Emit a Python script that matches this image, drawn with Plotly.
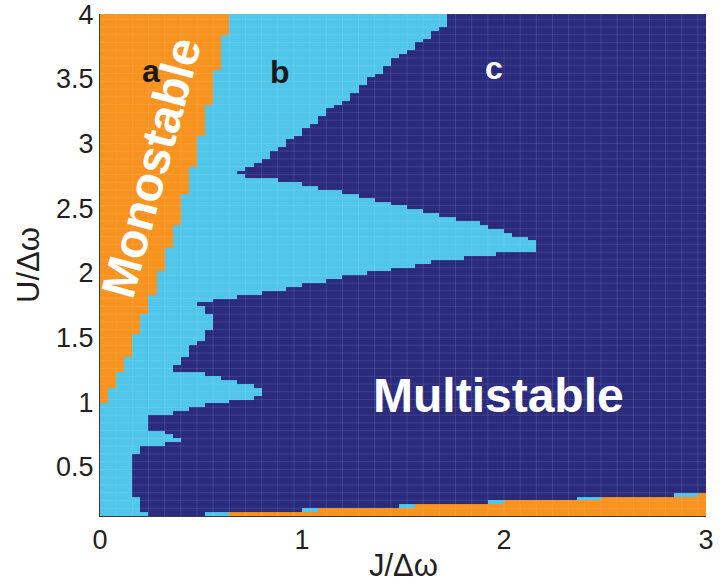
import numpy as np
import plotly.graph_objects as go

# ---------------- data ----------------
# Boundary between the light-blue region (b) and the navy multistable region (c),
# traced from the top of the chart (U = 4) down to the bottom.
edge_J = [1.74, 1.72, 1.60, 1.48, 1.36, 1.29, 1.16, 1.00, 0.84, 0.68, 0.68,
          0.80, 0.97, 1.12, 1.44, 1.68, 1.88, 2.09, 2.16, 2.16,
          2.00, 1.72, 1.56, 1.44, 1.29, 1.16, 1.04, 0.92, 0.84, 0.73, 0.64, 0.49, 0.49,
          0.53, 0.53, 0.56, 0.56, 0.525, 0.525, 0.49, 0.49, 0.445, 0.445, 0.40, 0.40, 0.36, 0.36,
          0.56, 0.68, 0.76, 0.80, 0.80,
          0.76, 0.76, 0.64, 0.64, 0.53, 0.53, 0.445, 0.445, 0.36, 0.36, 0.245,
          0.245, 0.32, 0.32, 0.36, 0.36, 0.40, 0.40, 0.32, 0.32, 0.20, 0.20,
          0.165, 0.165, 0.20, 0.20, 0.245, 0.245]
edge_U = [4.10, 3.93, 3.80, 3.67, 3.53, 3.42, 3.28, 3.09, 2.91, 2.78, 2.75,
          2.74, 2.69, 2.645, 2.54, 2.45, 2.38, 2.28, 2.25, 2.17,
          2.15, 2.10, 2.06, 2.02, 1.99, 1.95, 1.92, 1.88, 1.86, 1.83, 1.81, 1.77, 1.75,
          1.75, 1.69, 1.69, 1.56, 1.56, 1.48, 1.48, 1.43, 1.43, 1.36, 1.36, 1.30, 1.30, 1.25,
          1.20, 1.16, 1.13, 1.11, 1.055,
          1.055, 1.03, 1.03, 1.00, 1.00, 0.96, 0.96, 0.92, 0.92, 0.90, 0.90,
          0.78, 0.78, 0.76, 0.76, 0.73, 0.73, 0.70, 0.70, 0.67, 0.67, 0.59,
          0.59, 0.27, 0.27, 0.15, 0.15, 0.00]

# Monostable (orange) staircase on the left: right edge J for each U band
mono_U_low = [3.853, 3.567, 3.304, 3.073, 2.818, 2.617, 2.385, 2.176,
              1.998, 1.828, 1.666, 1.519, 1.364, 1.226, 1.117, 0.994]
mono_J = [0.64, 0.60, 0.56, 0.52, 0.48, 0.44, 0.40, 0.36,
          0.32, 0.28, 0.24, 0.20, 0.16, 0.12, 0.08, 0.04]

# Monostable strip along the bottom: per U row, where light-blue and orange start
strip_U_low = [0.12, 0.15, 0.18, 0.21, 0.24, 0.27]
strip_blue_J = [0.52, 1.00, 1.48, 1.92, 2.36, 2.84]
strip_orange_J = [0.64, 1.08, 1.56, 2.00, 2.48, 2.96]

x_ticks = [0, 1, 2, 3]
y_ticks = [0.5, 1, 1.5, 2, 2.5, 3, 3.5, 4]
y_tick_text = ["0.5", "1", "1.5", "2", "2.5", "3", "3.5", "4"]

ORANGE = "#F7931E"
LIGHT = "#50C6EB"
NAVY = "#2B2B7E"

# ---------------- build the computation grid ----------------
x_edges = np.round(np.arange(0, 3.0001, 0.04), 4)
y_edges = np.append(np.round(0.12 + 0.03 * np.arange(0, 130), 4), 4.0)
xc = (x_edges[:-1] + x_edges[1:]) / 2
yc = (y_edges[:-1] + y_edges[1:]) / 2
XC, YC = np.meshgrid(xc, yc)

poly_x = np.array([0.0] + edge_J + [0.0])
poly_y = np.array([4.10] + edge_U + [0.0])


def inside(px, py, vx, vy):
    res = np.zeros(px.shape, bool)
    n = len(vx)
    j = n - 1
    for i in range(n):
        xi, yi, xj, yj = vx[i], vy[i], vx[j], vy[j]
        cond = (yi > py) != (yj > py)
        if yj != yi:
            xint = (xj - xi) * (py - yi) / (yj - yi) + xi
            res ^= cond & (px < xint)
        j = i
    return res


z = np.full(XC.shape, 2.0)
z[inside(XC, YC, poly_x, poly_y)] = 1.0

tops = [4.1] + mono_U_low[:-1]
for lo, hi, jr in zip(mono_U_low, tops, mono_J):
    m = (YC >= lo) & (YC < hi) & (XC < jr)
    z[m] = 0.0

for lo, jb, jo in zip(strip_U_low, strip_blue_J, strip_orange_J):
    row = (YC >= lo) & (YC < lo + 0.03)
    z[row & (XC > jb)] = 1.0
    z[row & (XC > jo)] = 0.0

fig = go.Figure()
fig.add_trace(go.Heatmap(
    x=x_edges, y=y_edges, z=z, zmin=0, zmax=2,
    colorscale=[[0, ORANGE], [0.5, LIGHT], [1, NAVY]],
    showscale=False, hoverinfo="skip"))

# faint cell-edge texture of the original pcolor rendering
gx, gy = [], []
for xe in x_edges[2:-1:2]:
    gx += [xe, xe, None]
    gy += [0.12, 4.0, None]
for ye in y_edges[2:-1:2]:
    gx += [0, 3, None]
    gy += [ye, ye, None]
fig.add_trace(go.Scatter(x=gx, y=gy, mode="lines", hoverinfo="skip",
                         line=dict(color="rgba(255,255,255,0.10)", width=1)))

FONT = "Liberation Sans, Arial, Helvetica, sans-serif"
TXT = "#231F20"

fig.update_layout(
    width=722, height=583,
    margin=dict(l=100, r=16, t=14, b=67, autoexpand=False),
    paper_bgcolor="white", plot_bgcolor="white",
    font=dict(family=FONT, color=TXT, size=27),
    showlegend=False,
    xaxis=dict(range=[0, 3], tickvals=x_ticks, ticktext=[str(v) for v in x_ticks],
               showgrid=False, zeroline=False, showline=True, linecolor="#3a3a3a",
               linewidth=1, ticks="", tickfont=dict(size=27),
               ticklabeloverflow="allow", automargin=False),
    yaxis=dict(range=[0.12, 4.0005], tickvals=y_ticks, ticktext=y_tick_text,
               showgrid=False, zeroline=False, showline=True, linecolor="#3a3a3a",
               linewidth=1, ticks="", tickfont=dict(size=27),
               ticklabeloverflow="allow", automargin=False),
)

ann = [
    dict(x=0.252, y=3.56, text="<b>a</b>", font=dict(size=32, color="#1a1a1a")),
    dict(x=0.89, y=3.55, text="<b>b</b>", font=dict(size=32, color="#1a1a1a")),
    dict(x=1.951, y=3.58, text="<b>c</b>", font=dict(size=32, color="white")),
    dict(x=1.973, y=1.048, text="<b>Multistable</b>", font=dict(size=48, color="white")),
    dict(x=0.257, y=2.818, text="<b>Monostable</b>", textangle=-75,
         font=dict(size=48, color="white")),
]
for a in ann:
    fig.add_annotation(xref="x", yref="y", showarrow=False,
                       xanchor="center", yanchor="middle", **a)

fig.add_annotation(xref="paper", yref="paper", x=0.5, y=0, yshift=-49,
                   text="J/Δω", showarrow=False, xanchor="center", yanchor="middle",
                   font=dict(size=31, color=TXT))
fig.add_annotation(xref="paper", yref="paper", x=0, y=0.5, xshift=-72,
                   text="U/Δω", textangle=-90, showarrow=False,
                   xanchor="center", yanchor="middle",
                   font=dict(size=31, color=TXT))

fig.write_html("out.html")
